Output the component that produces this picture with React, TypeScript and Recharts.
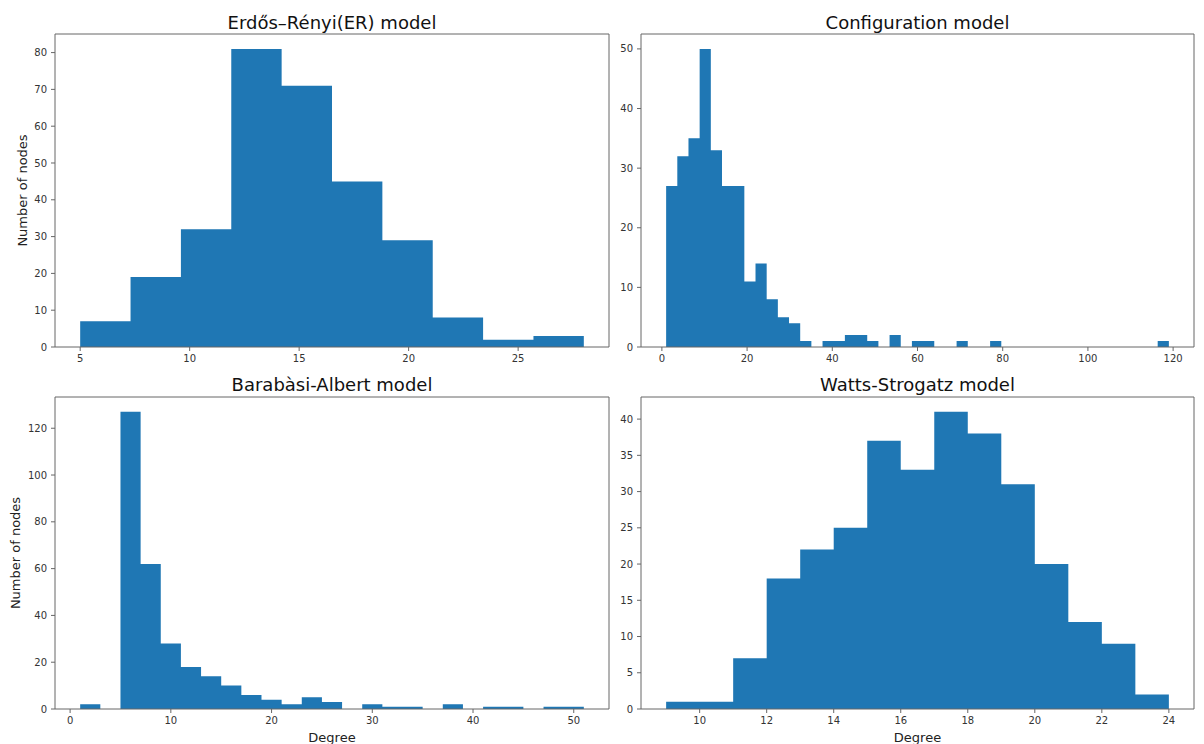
import React from "react";
import { AreaChart, Area, XAxis, YAxis, ReferenceLine } from "recharts";

// degree histograms, counts read bin by bin
const erRange = [5, 28];
const erCounts = [7, 19, 32, 81, 71, 45, 29, 8, 2, 3];
const erXTicks = [5, 10, 15, 20, 25];
const erYTicks = [0, 10, 20, 30, 40, 50, 60, 70, 80];

const configRange = [1, 119];
const configCounts = [
    27, 32, 35, 50, 33, 27, 27, 11, 14, 8, 5, 4, 1, 0, 1, 1, 2, 2, 1, 0, 2, 0, 1,
    1, 0, 0, 1, 0, 0, 1, 0, 0, 0, 0, 0, 0, 0, 0, 0, 0, 0, 0, 0, 0, 1,
];
const configXTicks = [0, 20, 40, 60, 80, 100, 120];
const configYTicks = [0, 10, 20, 30, 40, 50];

const baRange = [1, 51];
const baCounts = [
    2, 0, 127, 62, 28, 18, 14, 10, 6, 4, 2, 5, 3, 0, 2, 1, 1, 0, 2, 0, 1, 1, 0, 1, 1,
];
const baXTicks = [0, 10, 20, 30, 40, 50];
const baYTicks = [0, 20, 40, 60, 80, 100, 120];

const wsRange = [9, 24];
const wsCounts = [1, 1, 7, 18, 22, 25, 37, 33, 41, 38, 31, 20, 12, 9, 2];
const wsXTicks = [10, 12, 14, 16, 18, 20, 22, 24];
const wsYTicks = [0, 5, 10, 15, 20, 25, 30, 35, 40];

const FONT = "'DejaVu Sans', sans-serif";
const BAR = "#1f77b4";
const SPINE = "#666";

// equal-width bins like np.histogram, drawn as a stepped area
function histRows(range: number[], counts: number[]) {
    const [lo, hi] = range;
    const n = counts.length;
    const rows = counts.map((c, i) => ({ degree: lo + ((hi - lo) * i) / n, nodes: c }));
    rows.push({ degree: hi, nodes: counts[n - 1] });
    return rows;
}

function padded(range: number[]) {
    const m = (range[1] - range[0]) * 0.05;
    return [range[0] - m, range[1] + m];
}

type PanelProps = {
    title: string;
    left: number;
    top: number;
    width: number;
    height: number;
    yAxisWidth: number;
    rightPad: number;
    plotTop: number;
    xAxisHeight: number;
    titleTop: number;
    range: number[];
    counts: number[];
    xTicks: number[];
    yTicks: number[];
    yLabelX?: number;
    showXLabel?: boolean;
};

function Panel(p: PanelProps) {
    const data = histRows(p.range, p.counts);
    const yMax = Math.max(...p.counts) * 1.05;
    const xDomain = padded(p.range);
    const tick = { fontSize: 10, fill: "#333", fontFamily: FONT };

    const yLabel = (props: any) => {
        const vb = props.viewBox;
        const x = vb.x + (p.yLabelX ?? 0);
        const y = vb.y + vb.height / 2;
        return (
            <text
                x={x}
                y={y}
                transform={`rotate(-90, ${x}, ${y})`}
                textAnchor="middle"
                fontSize={13}
                fontFamily={FONT}
                fill="#222"
            >
                Number of nodes
            </text>
        );
    };

    const xLabel = (props: any) => {
        const vb = props.viewBox;
        return (
            <text
                x={vb.x + vb.width / 2}
                y={vb.y + 33}
                textAnchor="middle"
                fontSize={13}
                fontFamily={FONT}
                fill="#222"
            >
                Degree
            </text>
        );
    };

    return (
        <div
            style={{
                position: "absolute",
                left: p.left,
                top: p.top,
                width: p.width,
                height: p.height,
            }}
        >
            <div
                style={{
                    position: "absolute",
                    left: p.yAxisWidth,
                    width: p.width - p.yAxisWidth - p.rightPad,
                    top: p.titleTop,
                    fontSize: 18,
                    lineHeight: "18px",
                    textAlign: "center",
                    fontFamily: FONT,
                    color: "#111",
                    whiteSpace: "nowrap",
                }}
            >
                {p.title}
            </div>

            <AreaChart
                width={p.width}
                height={p.height}
                data={data}
                margin={{ top: p.plotTop, right: p.rightPad, bottom: 0, left: 0 }}
            >
                <XAxis
                    dataKey="degree"
                    type="number"
                    domain={xDomain}
                    ticks={p.xTicks}
                    interval={0}
                    height={p.xAxisHeight}
                    tick={tick}
                    tickSize={4}
                    tickMargin={4}
                    stroke={SPINE}
                    label={p.showXLabel ? xLabel : undefined}
                />
                <YAxis
                    type="number"
                    domain={[0, yMax]}
                    ticks={p.yTicks}
                    interval={0}
                    width={p.yAxisWidth}
                    tick={tick}
                    tickSize={4}
                    tickMargin={4}
                    stroke={SPINE}
                    label={p.yLabelX !== undefined ? yLabel : undefined}
                />
                <Area
                    type="stepAfter"
                    dataKey="nodes"
                    stroke="none"
                    fill={BAR}
                    fillOpacity={1}
                    dot={false}
                    activeDot={false}
                    isAnimationActive={false}
                />
                {/* top and right spines of the matplotlib box */}
                <ReferenceLine y={yMax} stroke={SPINE} strokeWidth={1} />
                <ReferenceLine x={xDomain[1]} stroke={SPINE} strokeWidth={1} />
            </AreaChart>
        </div>
    );
}

export default function App() {
    return (
        <div
            style={{
                position: "absolute",
                left: 0,
                top: 0,
                width: 1204,
                height: 744,
                background: "#fff",
                fontFamily: FONT,
                overflow: "hidden",
            }}
        >
            <Panel
                title="Erdős–Rényi(ER) model"
                left={0}
                top={0}
                width={612}
                height={372}
                yAxisWidth={55}
                rightPad={3}
                plotTop={34}
                xAxisHeight={25}
                titleTop={14}
                range={erRange}
                counts={erCounts}
                xTicks={erXTicks}
                yTicks={erYTicks}
                yLabelX={27}
            />
            <Panel
                title="Configuration model"
                left={612}
                top={0}
                width={592}
                height={372}
                yAxisWidth={29}
                rightPad={10}
                plotTop={34}
                xAxisHeight={25}
                titleTop={14}
                range={configRange}
                counts={configCounts}
                xTicks={configXTicks}
                yTicks={configYTicks}
            />
            <Panel
                title="Barabàsi-Albert model"
                left={0}
                top={372}
                width={612}
                height={372}
                yAxisWidth={55}
                rightPad={3}
                plotTop={25}
                xAxisHeight={35}
                titleTop={4}
                range={baRange}
                counts={baCounts}
                xTicks={baXTicks}
                yTicks={baYTicks}
                yLabelX={20}
                showXLabel
            />
            <Panel
                title="Watts-Strogatz model"
                left={612}
                top={372}
                width={592}
                height={372}
                yAxisWidth={29}
                rightPad={10}
                plotTop={25}
                xAxisHeight={35}
                titleTop={4}
                range={wsRange}
                counts={wsCounts}
                xTicks={wsXTicks}
                yTicks={wsYTicks}
                showXLabel
            />
        </div>
    );
}
